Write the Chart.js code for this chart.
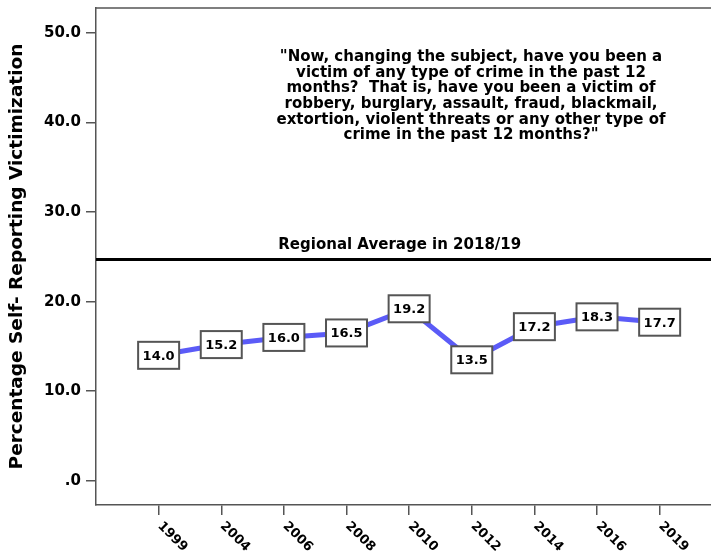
<!DOCTYPE html>
<html>
<head>
<meta charset="utf-8">
<script src="https://cdn.jsdelivr.net/npm/chart.js@4"></script>
<style>
  html, body { margin: 0; padding: 0; background: #fff; overflow: hidden; }
  canvas { display: block; }
</style>
</head>
<body>
<canvas id="myChart" width="711" height="557"></canvas>
<script>
const years = ["1999", "2004", "2006", "2008", "2010", "2012", "2014", "2016", "2019"]
const victimization = [14.0, 15.2, 16.0, 16.5, 19.2, 13.5, 17.2, 18.3, 17.7]
const regionalAverage = 24.7
const regionalLabel = "Regional Average in 2018/19"
const yTicks = [0, 10, 20, 30, 40, 50]
const yTitle = "Percentage Self- Reporting Victimization"
const noteLines = [
  "\"Now, changing the subject, have you been a",
  "victim of any type of crime in the past 12",
  "months?  That is, have you been a victim of",
  "robbery, burglary, assault, fraud, blackmail,",
  "extortion, violent threats or any other type of",
  "crime in the past 12 months?\""
]

const FONT = "'DejaVu Sans', sans-serif"
const AXIS = "#555"
Chart.defaults.font.family = FONT

// labels, frame and notes drawn on top of the chart
const extras = {
  id: "extras",
  afterDatasetsDraw(chart) {
    const ctx = chart.ctx
    const area = chart.chartArea
    const xs = chart.scales.x
    const ys = chart.scales.y
    ctx.save()

    // top frame line
    ctx.strokeStyle = AXIS
    ctx.lineWidth = 1.5
    ctx.beginPath()
    ctx.moveTo(area.left, area.top)
    ctx.lineTo(area.right, area.top)
    ctx.stroke()

    // value boxes
    const meta = chart.getDatasetMeta(0)
    ctx.font = "bold 13px " + FONT
    ctx.textAlign = "center"
    ctx.textBaseline = "middle"
    meta.data.forEach((pt, i) => {
      const w = 41, h = 27
      ctx.fillStyle = "#fff"
      ctx.fillRect(pt.x - w / 2, pt.y - h / 2, w, h)
      ctx.strokeStyle = "#555"
      ctx.lineWidth = 2
      ctx.strokeRect(pt.x - w / 2, pt.y - h / 2, w, h)
      ctx.fillStyle = "#000"
      ctx.fillText(victimization[i].toFixed(1), pt.x, pt.y + 1)
    })

    // regional average label
    ctx.font = "bold 15px " + FONT
    ctx.fillText(regionalLabel, xs.getPixelForValue(3.85), ys.getPixelForValue(regionalAverage) - 14)

    // question text
    ctx.font = "bold 15px " + FONT
    noteLines.forEach((line, i) => {
      ctx.fillText(line, 471, 57 + i * 15.7)
    })

    // rotated year labels
    ctx.font = "bold 13px " + FONT
    ctx.textAlign = "left"
    years.forEach((yr, i) => {
      const x = xs.getPixelForValue(i)
      ctx.save()
      ctx.translate(x + 1, area.bottom + 19)
      ctx.rotate(Math.PI / 4)
      ctx.fillText(yr, 0, 0)
      ctx.restore()
    })

    // y title
    ctx.font = "bold 18.5px " + FONT
    ctx.textAlign = "center"
    ctx.save()
    ctx.translate(17, (area.top + area.bottom) / 2)
    ctx.rotate(-Math.PI / 2)
    ctx.fillText(yTitle, 0, 0)
    ctx.restore()

    ctx.restore()
  }
}

const ctx = document.getElementById("myChart")
new Chart(ctx, {
  type: "line",
  data: {
    datasets: [
      {
        data: victimization.map((v, i) => ({ x: i, y: v })),
        borderColor: "#5b5bf7",
        borderWidth: 5,
        pointRadius: 0,
        tension: 0
      },
      {
        data: [{ x: -1, y: regionalAverage }, { x: 8.82, y: regionalAverage }],
        borderColor: "#000",
        borderWidth: 3,
        pointRadius: 0
      }
    ]
  },
  options: {
    responsive: false,
    animation: false,
    layout: { padding: { top: 8, right: 0, left: 0, bottom: 0 } },
    plugins: { legend: { display: false }, tooltip: { enabled: false } },
    scales: {
      x: {
        type: "linear",
        min: -1,
        max: 8.82,
        afterBuildTicks: (scale) => { scale.ticks = years.map((y, i) => ({ value: i })) },
        afterFit: (scale) => { scale.height = 52; scale.paddingLeft = 0; scale.paddingRight = 0 },
        ticks: { display: false },
        grid: { drawOnChartArea: false, tickLength: 10, color: AXIS, lineWidth: 1.5 },
        border: { color: AXIS, width: 1.5 }
      },
      y: {
        min: -2.72,
        max: 52.8,
        afterBuildTicks: (scale) => { scale.ticks = yTicks.map(v => ({ value: v })) },
        afterFit: (scale) => { scale.width = 96; scale.paddingTop = 0; scale.paddingBottom = 0 },
        ticks: {
          color: "#000",
          padding: 5,
          font: { size: 15, weight: "bold" },
          callback: (v) => v === 0 ? ".0" : v.toFixed(1)
        },
        grid: { drawOnChartArea: false, tickLength: 10, color: AXIS, lineWidth: 1.5 },
        border: { color: AXIS, width: 1.5 }
      }
    }
  },
  plugins: [extras]
})
</script>
</body>
</html>
